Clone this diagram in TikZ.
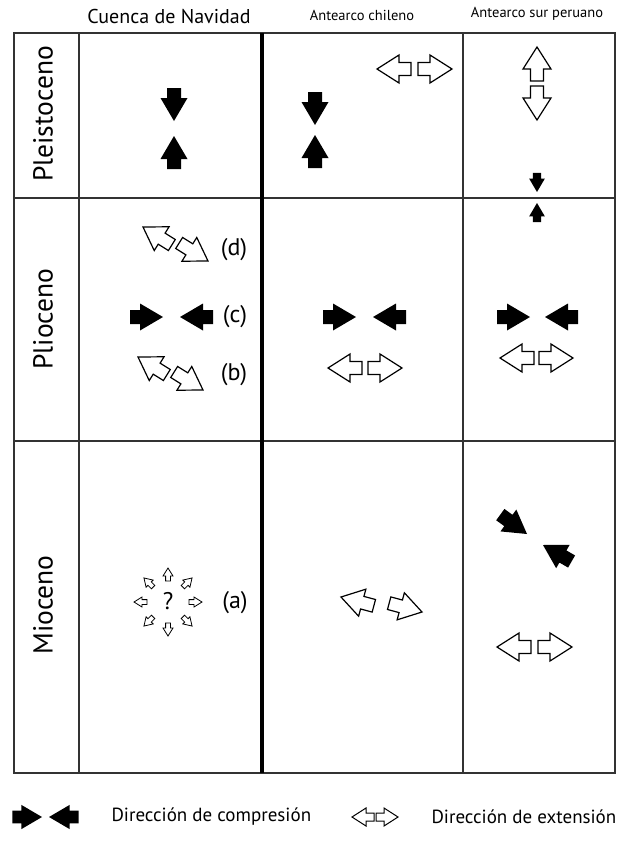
\documentclass[tikz,border=0pt]{standalone}
\usepackage{fontspec}
\setmainfont{PT Sans}
\usetikzlibrary{calc}
\begin{document}
\begin{tikzpicture}[x=1pt,y=-1pt,
  gridline/.style={draw=black!80,line width=1.3pt},
  thickline/.style={draw=black,line width=4pt},
  comp/.pic={\fill[black] (0,0) -- (-23,13.5) -- (-23,7) -- (-33,7) -- (-33,-7) -- (-23,-7) -- (-23,-13.5) -- cycle;},
  ext/.pic={\draw[black,fill=white,line width=1.2pt,line join=miter] (0,0) -- (-22,14) -- (-22,6.5) -- (-34,6.5) -- (-34,-6.5) -- (-22,-6.5) -- (-22,-14) -- cycle;},
  smallext/.pic={\draw[black,fill=white,line width=0.8pt,line join=miter] (0,0) -- (-8,5) -- (-8,2.4) -- (-13,2.4) -- (-13,-2.4) -- (-8,-2.4) -- (-8,-5) -- cycle;},
  legext/.pic={\draw[black,fill=white,line width=1pt,line join=miter] (0,0) -- (-14,9) -- (-14,4) -- (-22,4) -- (-22,-4) -- (-14,-4) -- (-14,-9) -- cycle;},
  head/.style={font=\fontsize{20}{22}\selectfont},
  headsmall/.style={font=\fontsize{14.5}{16}\selectfont},
  rowlabel/.style={font=\fontsize{27.5}{29}\selectfont,rotate=90},
  lbl/.style={font=\fontsize{24}{26}\selectfont},
  legtext/.style={font=\fontsize{19}{21}\selectfont,anchor=west}]
\useasboundingbox[fill=white] (0,0) rectangle (620,857);
% grid
\draw[gridline] (14,33) rectangle (615,773);
\draw[gridline] (79,33) -- (79,773);
\draw[gridline] (463,33) -- (463,773);
\draw[gridline] (14,198) -- (615,198);
\draw[gridline] (14,441) -- (615,441);
\draw[thickline] (262,33) -- (262,773);
% headers
\node[head] (h1) at (169,16) {Cuenca de Navidad};
\node[headsmall] (h2) at (362,15) {Antearco chileno};
\node[headsmall] (h3) at (537,14) {Antearco sur peruano};
% row labels
\node[rowlabel] (r1) at (43,114) {Pleistoceno};
\node[rowlabel] (r2) at (43,319) {Plioceno};
\node[rowlabel] (r3) at (43,605) {Mioceno};
% Cuenca de Navidad
\pic[rotate=-90] at (174,121) {comp};
\pic[rotate=90] at (174,136) {comp};
\pic[rotate=148] at (143,227) {ext};
\pic[rotate=-32] at (208,261) {ext};
\node[lbl] (d) at (234,250) {(d)};
\pic at (163,317) {comp};
\pic[rotate=180] at (180,317) {comp};
\node[lbl] (c) at (235,317) {(c)};
\pic[rotate=148] at (138,357) {ext};
\pic[rotate=-32] at (203,390) {ext};
\node[lbl] (b) at (234,375) {(b)};
\node[lbl] (q) at (168,601) {?};
\foreach \a in {0,45,...,315}{\pic[rotate=\a] at ($(168,602)+(\a:34pt)$) {smallext};}
\node[lbl] (a) at (235,603) {(a)};
% Antearco chileno
\pic[rotate=-90] at (315,125) {comp};
\pic[rotate=90] at (315,135) {comp};
\pic[rotate=180] at (377,69) {ext};
\pic at (452,69) {ext};
\pic at (356,317) {comp};
\pic[rotate=180] at (373,317) {comp};
\pic[rotate=180] at (328,368) {ext};
\pic at (402,368) {ext};
\pic[rotate=165] at (341,597) {ext};
\pic[rotate=-15] at (422,612) {ext};
% Antearco sur peruano
\pic[rotate=90] at (537,47) {ext};
\pic[rotate=-90] at (537,120) {ext};
\pic[rotate=-90,scale=0.58] at (537,192) {comp};
\pic[rotate=90,scale=0.58] at (537,203) {comp};
\pic at (530,317) {comp};
\pic[rotate=180] at (545,317) {comp};
\pic[rotate=180] at (500,358) {ext};
\pic at (573,358) {ext};
\pic[rotate=-36] at (527,534) {comp};
\pic[rotate=150] at (543,545) {comp};
\pic[rotate=180] at (497,647) {ext};
\pic at (572,647) {ext};
% legend
\pic[scale=0.9] at (42,817) {comp};
\pic[rotate=180,scale=0.9] at (49,817) {comp};
\node[legtext] (l1) at (108,817) {Dirección de compresión};
\pic[rotate=180] at (352,817) {legext};
\pic at (398,817) {legext};
\node[legtext] (l2) at (428,817) {Dirección de extensión};
\end{tikzpicture}
\end{document}
